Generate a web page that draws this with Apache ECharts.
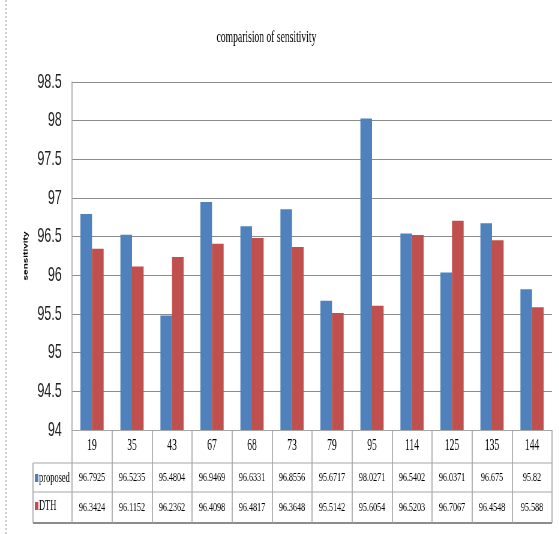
<!DOCTYPE html>
<html>
<head>
<meta charset="utf-8">
<script src="https://cdn.jsdelivr.net/npm/echarts@6/dist/echarts.min.js"></script>
<style>
  html, body { margin: 0; padding: 0; background: #fff; overflow: hidden; width: 559px; height: 534px; }
  /* The chart is laid out wide and squeezed horizontally, giving the condensed lettering */
  #chart { width: 932px; height: 534px; transform: scaleX(0.6); transform-origin: 0 0; }
</style>
</head>
<body>
<div id="chart"></div>
<script>
// Sample sizes along the category axis
const categories = ['19', '35', '43', '67', '68', '73', '79', '95', '114', '125', '135', '144'];
// Sensitivity of the proposed method
const proposed = [96.7925, 96.5235, 95.4804, 96.9469, 96.6331, 96.8556, 95.6717, 98.0271, 96.5402, 96.0371, 96.675, 95.82];
// Sensitivity of DTH
const dth = [96.3424, 96.1152, 96.2362, 96.4098, 96.4817, 96.3648, 95.5142, 95.6054, 96.5203, 96.7067, 96.4548, 95.588];
// Value axis ticks
const yMin = 94, yMax = 98.5, yStep = 0.5;

const serif = '"Liberation Serif", "Times New Roman", serif';
const sans = '"Liberation Sans", Arial, sans-serif';
const lineGray = '#a6a6a6';
const vw = 1.67; // vertical strokes widened to survive the horizontal squeeze

const chart = echarts.init(document.getElementById('chart'), null, { renderer: 'canvas' });

const tableAxis = (values, margin) => ({
  type: 'category',
  gridIndex: 0,
  position: 'bottom',
  data: values.map(String),
  axisLine: { show: false },
  axisTick: { show: false },
  splitLine: { show: false },
  axisLabel: { margin: margin, fontFamily: serif, fontSize: 13.5, color: '#000', interval: 0 }
});

const option = {
  animation: false,
  backgroundColor: '#fff',
  title: {
    text: 'comparision of sensitivity',
    left: 361,
    top: 30,
    padding: 0,
    textStyle: { fontFamily: serif, fontSize: 16, fontWeight: 'normal', color: '#000' }
  },
  legend: {
    data: ['proposed', 'DTH'],
    orient: 'vertical',
    left: 58,
    top: 471,
    itemGap: 14,
    itemWidth: 6,
    itemHeight: 8,
    padding: 0,
    icon: 'rect',
    textStyle: { fontFamily: serif, fontSize: 14, color: '#000', padding: [0, 0, 0, -4] }
  },
  grid: { left: 120, right: 12, top: 82, bottom: 104, containLabel: false },
  xAxis: [
    {
      type: 'category',
      data: categories,
      axisLine: { show: true, lineStyle: { color: lineGray, width: 1 } },
      axisTick: { show: true, length: 93, lineStyle: { color: lineGray, width: vw } },
      axisLabel: { margin: 8, fontFamily: serif, fontSize: 16, color: '#000', interval: 0 }
    },
    tableAxis(proposed, 40),
    tableAxis(dth, 70)
  ],
  yAxis: {
    type: 'value',
    min: yMin,
    max: yMax,
    interval: yStep,
    name: 'sensitivity',
    nameLocation: 'middle',
    nameGap: 72,
    nameMoveOverlap: false,
    nameTextStyle: { fontFamily: sans, fontSize: 10, fontWeight: 'bold', color: '#000' },
    axisLine: { show: true, lineStyle: { color: lineGray, width: vw } },
    axisTick: { show: false },
    splitLine: { show: true, lineStyle: { color: '#8c8c8c', width: 1 } },
    axisLabel: { margin: 17, fontFamily: sans, fontSize: 21, color: '#222' }
  },
  series: [
    {
      name: 'proposed',
      type: 'bar',
      data: proposed,
      barGap: '0%',
      barCategoryGap: '42%',
      itemStyle: { color: '#4F81BD' }
    },
    {
      name: 'DTH',
      type: 'bar',
      data: dth,
      itemStyle: { color: '#C0504D' }
    }
  ],
  graphic: [
    // outer frame line on the left
    { type: 'line', shape: { x1: 10, y1: 0, x2: 10, y2: 534 }, style: { stroke: '#b0b0b0', lineWidth: vw, lineDash: [2, 2] } },
    // data table frame
    { type: 'line', shape: { x1: 55, y1: 463, x2: 920, y2: 463 }, style: { stroke: lineGray, lineWidth: 1 } },
    { type: 'line', shape: { x1: 55, y1: 492, x2: 920, y2: 492 }, style: { stroke: lineGray, lineWidth: 1 } },
    { type: 'line', shape: { x1: 55, y1: 523, x2: 920, y2: 523 }, style: { stroke: '#8c8c8c', lineWidth: 2 } },
    { type: 'line', shape: { x1: 55, y1: 463, x2: 55, y2: 523 }, style: { stroke: lineGray, lineWidth: vw } }
  ]
};

chart.setOption(option);
</script>
</body>
</html>
